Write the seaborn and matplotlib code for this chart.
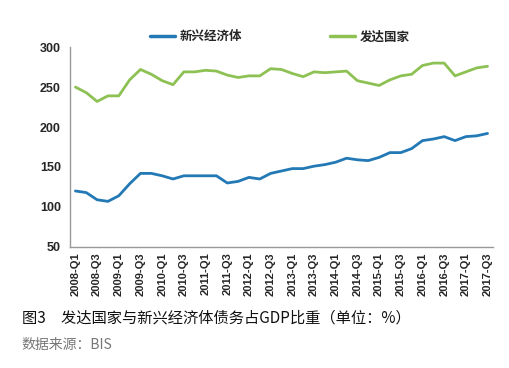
import matplotlib
matplotlib.use("Agg")
import matplotlib.pyplot as plt
import seaborn as sns
import pandas as pd
import numpy as np

# 季度标签 2008-Q1 ... 2017-Q3
quarters = [f"{y}-Q{q}" for y in range(2008, 2018) for q in range(1, 5)][:39]

emerging = [120, 118, 109, 107, 114, 129, 142, 142, 139, 135,
            139, 139, 139, 139, 130, 132, 137, 135, 142, 145,
            148, 148, 151, 153, 156, 161, 159, 158, 162, 168,
            168, 173, 183, 185, 188, 183, 188, 189, 192]
developed = [250, 243, 232, 239, 239, 259, 272, 266, 258, 253,
             269, 269, 271, 270, 265, 262, 264, 264, 273, 272,
             267, 263, 269, 268, 269, 270, 258, 255, 252, 259,
             264, 266, 277, 280, 280, 264, 269, 274, 276]

series_names = ["新兴经济体", "发达国家"]
colors = ["#2279B5", "#8DC153"]

df = pd.DataFrame({
    "idx": list(range(len(quarters))) * 2,
    "value": emerging + developed,
    "series": [series_names[0]] * len(quarters) + [series_names[1]] * len(quarters),
})

sns.set_style("white")
plt.rcParams['font.family'] = ['Noto Sans CJK SC', 'DejaVu Sans']

fig = plt.figure(figsize=(5.09, 3.68), dpi=100)
ax = fig.add_axes([0.1375, 0.329, 0.831, 0.543])

sns.lineplot(data=df, x="idx", y="value", hue="series", palette=colors,
             linewidth=2.0, ax=ax, legend=False)

ax.set_xlim(-0.5, len(quarters) - 0.5)
ax.set_ylim(50, 300)
ax.set_yticks(range(50, 301, 50))
ax.set_xlabel("")
ax.set_ylabel("")

ax.set_xticks(np.arange(0, len(quarters), 2))
ax.set_xticklabels(quarters[::2], rotation=90, fontsize=8, fontweight='bold',
                   family=['Liberation Sans', 'DejaVu Sans'])
ax.set_xticks(np.arange(-0.5, len(quarters), 1), minor=True)
ax.tick_params(axis='x', which='major', length=0, pad=4)
ax.tick_params(axis='x', which='minor', direction='in', length=4, color='#999999')
ax.tick_params(axis='y', direction='out', length=3, color='#999999')
for lab in ax.get_yticklabels():
    lab.set_fontsize(9)
    lab.set_fontweight('bold')
    lab.set_family(['Liberation Sans', 'DejaVu Sans'])

sns.despine(ax=ax)
for s in ['left', 'bottom']:
    ax.spines[s].set_color('#999999')
    ax.spines[s].set_linewidth(1)

handles = [plt.Line2D([], [], color=c, linewidth=2.5) for c in colors]
fig.legend(handles, series_names, loc='center', bbox_to_anchor=(0.55, 0.9),
           ncol=2, frameon=False, handlelength=2.0, columnspacing=7,
           prop={'family': 'Noto Sans CJK SC', 'weight': 'bold', 'size': 9},
           handletextpad=0.4)

fig.text(0.043, 0.136, "图3　发达国家与新兴经济体债务占GDP比重（单位：%）",
         fontsize=11, va='center', ha='left', color='#111111')
fig.text(0.043, 0.0625, "数据来源：BIS", fontsize=10, va='center', ha='left',
         color='#777777')

fig.savefig("out.png", dpi=100)
